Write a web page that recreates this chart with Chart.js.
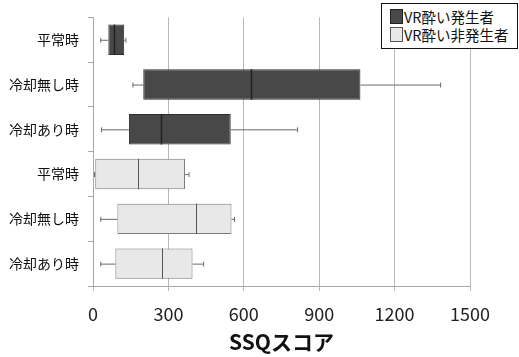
<!DOCTYPE html>
<html><head><meta charset="utf-8">
<script src="https://cdn.jsdelivr.net/npm/chart.js@4/dist/chart.umd.min.js"></script>
<style>
html,body{margin:0;padding:0;background:#fff;}
#wrap{position:relative;width:519px;height:357px;}
#legend{position:absolute;left:381px;top:3px;width:137px;height:46px;border:1px solid #111;background:#fff;box-sizing:border-box;font-family:"Noto Sans CJK JP","Noto Sans",sans-serif;font-size:14.5px;color:#111;}
.item{position:absolute;left:8px;height:16px;line-height:16px;white-space:nowrap;}
.sw{display:inline-block;width:13px;height:15px;box-sizing:border-box;vertical-align:top;margin-right:1px;}
</style></head>
<body><div id="wrap"><canvas id="c" width="519" height="357"></canvas><div id="legend"></div></div>
<script>
const categories = ['平常時','冷却無し時','冷却あり時','平常時','冷却無し時','冷却あり時'];
const seriesNames = ['VR酔い発生者','VR酔い非発生者'];
const groupOf = [0,0,0,1,1,1];
const minVals = [29,157,32,4,29,29];
const q1Vals  = [61,200,143,9,97,89];
const medVals = [85,628,271,179,411,275];
const q3Vals  = [124,1064,548,366,551,396];
const maxVals = [129,1381,812,380,561,438];
const xTicks = [0,300,600,900,1200,1500];

const fills = ['#484848','#e8e8e8'];
const borders = ['#2e2e2e','#7a7a7a'];

const datasets = seriesNames.map((name,g)=>({
  label:name,
  data:categories.map((c,i)=> groupOf[i]===g ? [q1Vals[i],q3Vals[i]] : null),
  backgroundColor:fills[g],
  borderColor:borders[g],
  borderWidth:1,
  borderSkipped:false,
  grouped:false,
  barPercentage:0.68,
  categoryPercentage:1
}));

const boxPlugin = {
  id:'boxextras',
  afterDatasetsDraw(chart){
    const ctx=chart.ctx, xs=chart.scales.x;
    categories.forEach((c,i)=>{
      const g=groupOf[i];
      const el=chart.getDatasetMeta(g).data[i];
      if(!el) return;
      const y=el.y, h=el.height;
      const pMin=xs.getPixelForValue(minVals[i]), pQ1=xs.getPixelForValue(q1Vals[i]);
      const pMed=xs.getPixelForValue(medVals[i]), pQ3=xs.getPixelForValue(q3Vals[i]);
      const pMax=xs.getPixelForValue(maxVals[i]);
      ctx.save();
      ctx.strokeStyle='#6a6a6a'; ctx.lineWidth=1;
      ctx.beginPath();
      ctx.moveTo(pMin,y+0.5); ctx.lineTo(pQ1,y+0.5);
      ctx.moveTo(pQ3,y+0.5); ctx.lineTo(pMax,y+0.5);
      ctx.moveTo(pMin+0.5,y-2); ctx.lineTo(pMin+0.5,y+3);
      ctx.moveTo(pMax+0.5,y-2); ctx.lineTo(pMax+0.5,y+3);
      ctx.stroke();
      ctx.strokeStyle = g===0 ? '#222' : '#555';
      ctx.lineWidth = g===0 ? 1.5 : 1;
      ctx.beginPath();
      ctx.moveTo(Math.round(pMed)+0.5,y-h/2); ctx.lineTo(Math.round(pMed)+0.5,y+h/2);
      ctx.stroke();
      ctx.restore();
    });
  }
};

const chart = new Chart(document.getElementById('c'),{
  type:'bar',
  data:{labels:categories,datasets},
  options:{
    indexAxis:'y',
    responsive:false,
    animation:false,
    layout:{padding:{top:12,right:49,left:0,bottom:0}},
    plugins:{legend:{display:false},tooltip:{enabled:false}},
    scales:{
      x:{
        min:0,max:1500,
        afterBuildTicks(s){ s.ticks = xTicks.map(v=>({value:v})); },
        afterFit(s){ s.height=71; },
        grid:{color:'#b8b8b8',tickLength:5,drawTicks:true},
        border:{color:'#a8a8a8'},
        ticks:{font:{family:'"Noto Sans CJK JP","Noto Sans",sans-serif',size:18},color:'#222',padding:12,maxRotation:0,callback:(v)=>String(v)},
        title:{display:true,text:'SSQスコア',font:{family:'"Noto Sans CJK JP",sans-serif',size:21,weight:'bold'},color:'#111',padding:{top:0,bottom:2}}
      },
      y:{
        afterFit(s){ s.width=93; },
        grid:{offset:true,drawOnChartArea:false,drawTicks:true,tickLength:5,color:'#a8a8a8'},
        border:{color:'#a8a8a8'},
        ticks:{font:{family:'"Noto Sans CJK JP","Noto Sans",sans-serif',size:14},color:'#111',padding:9}
      }
    }
  },
  plugins:[boxPlugin]
});

const lg=document.getElementById('legend');
seriesNames.forEach((n,g)=>{
  const d=document.createElement('div'); d.className='item'; d.style.top=(5+g*18)+'px';
  const s=document.createElement('span'); s.className='sw'; s.style.background=fills[g]; s.style.border='1px solid '+(g===0?'#222':'#555');
  d.appendChild(s); d.appendChild(document.createTextNode(n)); lg.appendChild(d);
});
</script></body></html>
